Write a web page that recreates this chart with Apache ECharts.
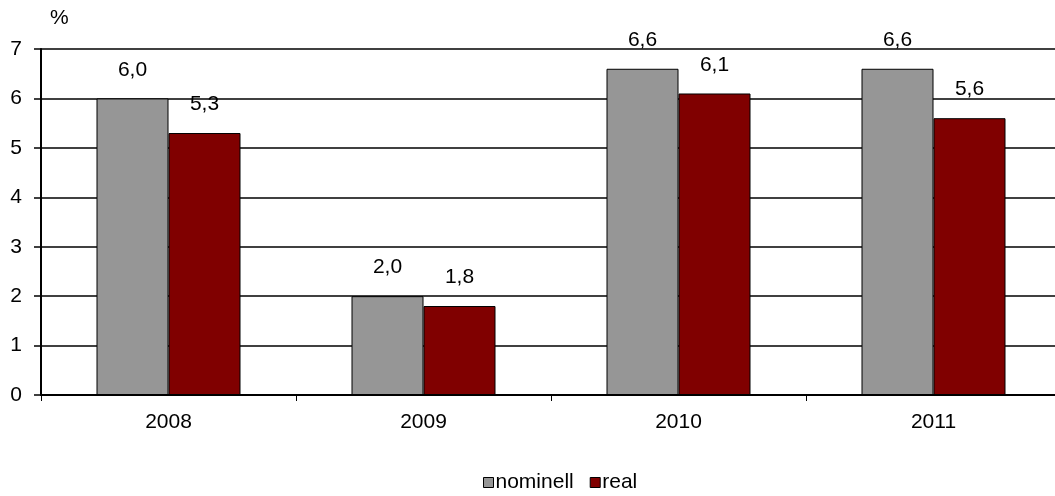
<!DOCTYPE html>
<html><head><meta charset="utf-8">
<script src="https://cdn.jsdelivr.net/npm/echarts@6/dist/echarts.min.js"></script>
<style>html,body{margin:0;padding:0;background:#fff;overflow:hidden;width:1055px;height:496px}#c{width:1062px;height:496px}</style>
</head><body><div id="c"></div>
<script>
var categories = ['2008', '2009', '2010', '2011'];
var nominell = [6.0, 2.0, 6.6, 6.6];
var real = [5.3, 1.8, 6.1, 5.6];
var yTicks = [0, 1, 2, 3, 4, 5, 6, 7];

var chart = echarts.init(document.getElementById('c'), null, {renderer: 'canvas'});
var font = 'Liberation Sans, Arial, sans-serif';
var fs = 21;
function lbl(p){ return p.value.toFixed(1).replace('.', ','); }
chart.setOption({
  animation: false,
  textStyle: {fontFamily: font},
  grid: {left: 41, right: 1, top: 49, bottom: 101, containLabel: false},
  title: {text: '%', left: 50, top: 8, padding: 0, textStyle: {fontSize: fs, fontWeight: 'normal', color: '#000', fontFamily: font}},
  legend: {
    data: ['nominell', 'real'], top: 472, left: 483, padding: 0, itemWidth: 10, itemHeight: 10, itemGap: 16,
    icon: 'rect',
    itemStyle: {borderColor: '#000', borderWidth: 1},
    textStyle: {fontSize: fs, color: '#000', fontFamily: font, padding: [0,0,0,-3]}
  },
  xAxis: {
    type: 'category', data: categories,
    axisLine: {lineStyle: {color: '#000', width: 2}},
    axisTick: {show: true, length: 6, lineStyle: {color: '#000', width: 1}},
    axisLabel: {fontSize: fs, color: '#000', margin: 17, fontFamily: font}
  },
  yAxis: {
    type: 'value', min: 0, max: yTicks[yTicks.length-1], interval: 1,
    axisLine: {show: true, lineStyle: {color: '#000', width: 2}},
    axisTick: {show: true, length: 7, lineStyle: {color: '#000', width: 1.5}},
    axisLabel: {fontSize: fs, color: '#000', margin: 19, fontFamily: font},
    splitLine: {lineStyle: {color: '#000', width: 1.5}}
  },
  series: [
    {name: 'nominell', type: 'bar', data: nominell, barWidth: 72, barGap: '0%',
     itemStyle: {color: '#969696', borderColor: '#000', borderWidth: 1},
     label: {show: true, position: 'top', distance: 18, fontSize: fs, color: '#000', formatter: lbl, fontFamily: font}},
    {name: 'real', type: 'bar', data: real, barWidth: 72, barGap: '0%',
     itemStyle: {color: '#800000', borderColor: '#000', borderWidth: 1},
     label: {show: true, position: 'top', distance: 18, fontSize: fs, color: '#000', formatter: lbl, fontFamily: font}}
  ]
});
</script></body></html>
